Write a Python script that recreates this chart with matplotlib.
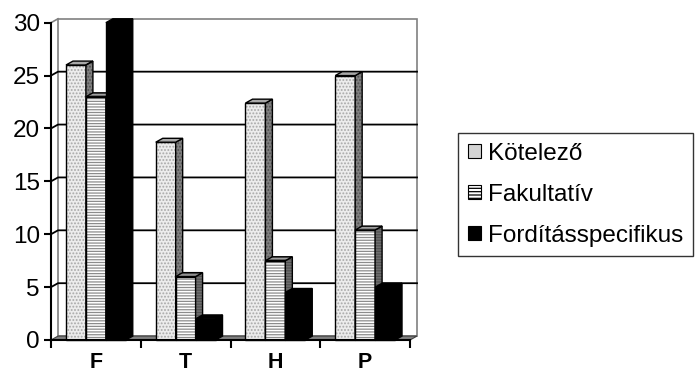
import matplotlib.pyplot as plt
from matplotlib.patches import Polygon, Patch

categories = ['F', 'T', 'H', 'P']
series = ['Kötelező', 'Fakultatív', 'Fordításspecifikus']
kotelezo = [26, 18.7, 22.4, 25]
fakultativ = [23, 6, 7.5, 10.4]
forditas = [30, 2, 4.5, 5]
yticks = [0, 5, 10, 15, 20, 25, 30]

plt.rcParams['font.family'] = ['Liberation Sans', 'DejaVu Sans']
plt.rcParams['hatch.linewidth'] = 0.9

# depth offset of the pseudo-3d walls and bars (data units)
DX, DY = 0.078, 0.37
BAR_W = 0.222

# per series: front colour, front hatch, hatch colour, side colour, top colour
styles = [
    ('#ececec', '.....', '#a8a8a8', '#808080', '#a8a8a8'),
    ('#ffffff', '------', '#8c8c8c', '#707070', '#a0a0a0'),
    ('#000000', None, '#000000', '#000000', '#000000'),
]


def face(ax, pts, fc, hatch, hc, z):
    ax.add_patch(Polygon(pts, closed=True, facecolor=fc, edgecolor=hc,
                         hatch=hatch, linewidth=0, zorder=z, clip_on=False))
    ax.add_patch(Polygon(pts, closed=True, fill=False, edgecolor='black',
                         linewidth=1.0, zorder=z + 0.1, clip_on=False))


def bar3d(ax, x0, h, style, z):
    fc, hatch, hc, side_c, top_c = style
    x1 = x0 + BAR_W
    face(ax, [(x0, 0), (x1, 0), (x1, h), (x0, h)], fc, hatch, hc, z)
    face(ax, [(x1, 0), (x1 + DX, DY), (x1 + DX, h + DY), (x1, h)],
         side_c, hatch, '#505050' if hatch else side_c, z + 0.2)
    face(ax, [(x0, h), (x1, h), (x1 + DX, h + DY), (x0 + DX, h + DY)],
         top_c, hatch if hatch == '------' else None, '#606060', z + 0.3)


fig = plt.figure(figsize=(7, 3.76), dpi=100)
ax = fig.add_axes([51 / 700, 36 / 376, 359 / 700, 317.3 / 376])
ax.set_xlim(-0.5, 3.5)
ax.set_ylim(0, 30)

# back wall, floor and gridlines
x_l, x_r = -0.5, 3.5
ax.add_patch(Polygon([(x_l + DX, DY), (x_r + DX, DY), (x_r + DX, 30 + DY),
                      (x_l + DX, 30 + DY)], closed=True, facecolor='white',
                     edgecolor='#808080', linewidth=1.2, zorder=0, clip_on=False))
ax.add_patch(Polygon([(x_l, 0), (x_r, 0), (x_r + DX, DY), (x_l + DX, DY)],
                     closed=True, facecolor='#808080', edgecolor='#404040',
                     linewidth=0.8, zorder=0.5, clip_on=False))
ax.plot([x_l, x_l + DX], [30, 30 + DY], color='#808080', lw=1.2,
        zorder=0.6, clip_on=False)
for v in yticks[1:-1]:
    ax.plot([x_l, x_l + DX, x_r + DX], [v, v + DY, v + DY], color='black',
            lw=1.3, zorder=0.6, clip_on=False)

offsets = [-1.5 * BAR_W, -0.5 * BAR_W, 0.5 * BAR_W]
z = 2
for i in range(len(categories)):
    for j, vals in enumerate([kotelezo, fakultativ, forditas]):
        bar3d(ax, i + offsets[j], vals[i], styles[j], z)
        z += 1

for s in ['top', 'right']:
    ax.spines[s].set_visible(False)
for s in ['left', 'bottom']:
    ax.spines[s].set_linewidth(1.5)
    ax.spines[s].set_zorder(100)

ax.set_yticks(yticks)
ax.tick_params(axis='y', direction='out', length=5, width=1.5, pad=3,
               labelsize=17.5)
ax.set_xticks(range(len(categories)))
ax.set_xticklabels(categories, fontsize=15.5, fontweight='bold')
ax.set_xticks([-0.5, 0.5, 1.5, 2.5, 3.5], minor=True)
ax.tick_params(axis='x', which='major', length=0, pad=9)
ax.tick_params(axis='x', which='minor', direction='out', length=6, width=1.5)

handles = [
    Patch(facecolor='#d4d4d4', edgecolor='black', linewidth=0.8),
    Patch(facecolor='white', edgecolor='black', hatch='-----', linewidth=0.8),
    Patch(facecolor='black', edgecolor='black', linewidth=0.8),
]
leg = fig.legend(handles, series, loc='upper left',
                 bbox_to_anchor=(458 / 700, 1 - 133 / 376), fontsize=17.5,
                 frameon=True, fancybox=False, edgecolor='black',
                 handlelength=0.55, handleheight=0.55, handletextpad=0.3,
                 labelspacing=0.78, borderpad=0.4, borderaxespad=0)
leg.get_frame().set_linewidth(1.0)

fig.savefig('out.png', dpi=100)
